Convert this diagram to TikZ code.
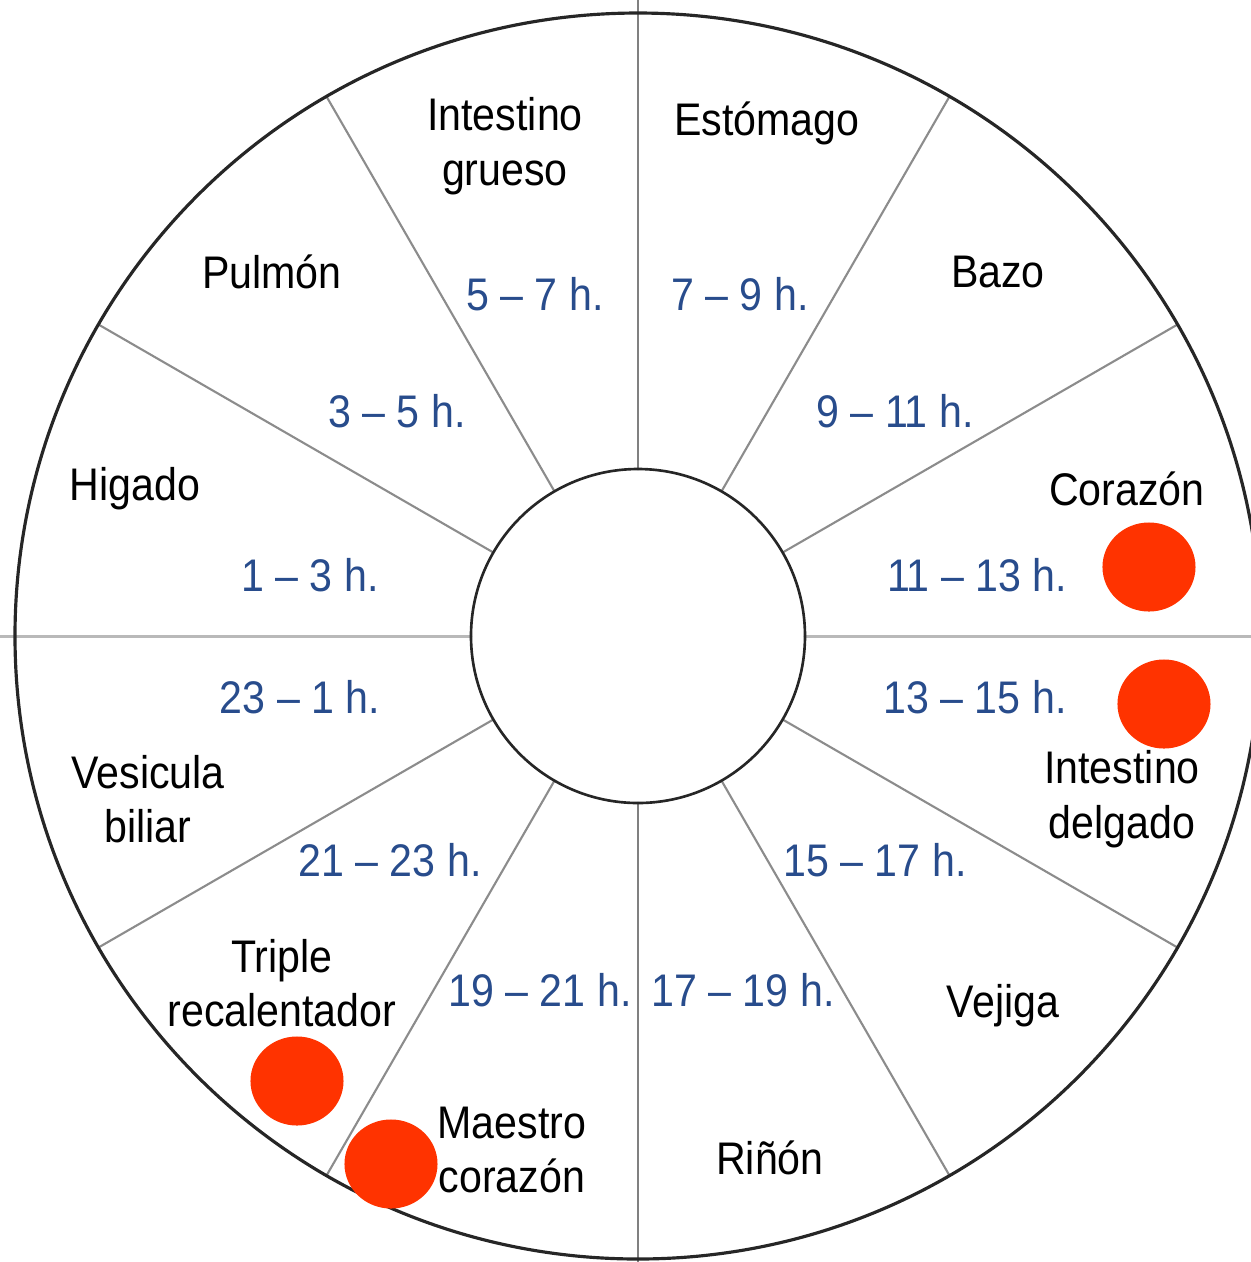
\documentclass[tikz,border=0pt]{standalone}
\usepackage{fontspec}
\setmainfont{Liberation Sans}[FakeStretch=0.9]
\usetikzlibrary{calc,shapes.geometric}
\definecolor{horablue}{RGB}{40,76,140}
\definecolor{dotred}{RGB}{255,51,0}
\begin{document}
\begin{tikzpicture}[x=0.01cm, y=-0.01cm, line cap=round, line join=round, font=\fontsize{13}{15.5}\selectfont]
			\tikzset{organ/.style={text=black, align=center, inner sep=0pt},
				hora/.style={text=horablue, inner sep=0pt},
				punto/.style={fill=dotred, draw=none, ellipse, inner sep=0pt, minimum width=0.93cm, minimum height=0.89cm},
				radio/.style={gray!90, line width=0.6pt}}
			\useasboundingbox (0,0) rectangle (1251,1262);
			\clip (0,0) rectangle (1251,1262);
			\coordinate (c) at (638,636);
			% rueda
			\foreach \a in {30,60,120,150,210,240,300,330}
				\draw[radio] ($(c)+(\a:167)$)--($(c)+(\a:623)$);
			\draw[gray!55, line width=0.85pt] ($(c)+(180:167)$)--($(c)+(180:640)$) ($(c)+(0:167)$)--($(c)+(0:640)$);
			\draw[gray, line width=0.85pt] ($(c)+(90:167)$)--($(c)+(90:640)$) ($(c)+(270:167)$)--($(c)+(270:640)$);
			\draw[black!85, line width=0.9pt] (c) circle[radius=623];
			\draw[black!85, line width=0.75pt] (c) circle[radius=167];
			% organos
			\node[organ] (ig) at (505,146) {Intestino\\grueso};
			\node[organ] (es) at (767,123) {Estómago};
			\node[organ] (pu) at (272,272) {Pulmón};
			\node[organ] (ba) at (998,272) {Bazo};
			\node[organ] (hi) at (135,489) {Higado};
			\node[organ] (co) at (1127,489) {Corazón};
			\node[organ] (ve) at (148,799) {Vesicula\\biliar};
			\node[organ] (id) at (1122,799) {Intestino\\delgado};
			\node[organ] (tr) at (282,983) {Triple\\recalentador};
			\node[organ] (vj) at (1003,1006) {Vejiga};
			\node[organ] (mc) at (512,1150) {Maestro\\corazón};
			\node[organ] (ri) at (770,1158) {Riñón};
			% horas
			\node[hora] (h5) at (535,294) {5 -- 7 h.};
			\node[hora] (h7) at (740,294) {7 -- 9 h.};
			\node[hora] (h3) at (397,411) {3 -- 5 h.};
			\node[hora] (h9) at (895,411) {9 -- 11 h.};
			\node[hora] (h1) at (310,575) {1 -- 3 h.};
			\node[hora] (h11) at (977,575) {11 -- 13 h.};
			\node[hora] (h23) at (300,697) {23 -- 1 h.};
			\node[hora] (h13) at (975,697) {13 -- 15 h.};
			\node[hora] (h21) at (390,860) {21 -- 23 h.};
			\node[hora] (h15) at (875,860) {15 -- 17 h.};
			\node[hora] (h19) at (540,990) {19 -- 21 h.};
			\node[hora] (h17) at (743,990) {17 -- 19 h.};
			% puntos
			\node[punto] (p1) at (1149,567) {};
			\node[punto] (p2) at (1164,704) {};
			\node[punto] (p3) at (297,1081) {};
			\node[punto] (p4) at (391,1164) {};
		\end{tikzpicture}
\end{document}
